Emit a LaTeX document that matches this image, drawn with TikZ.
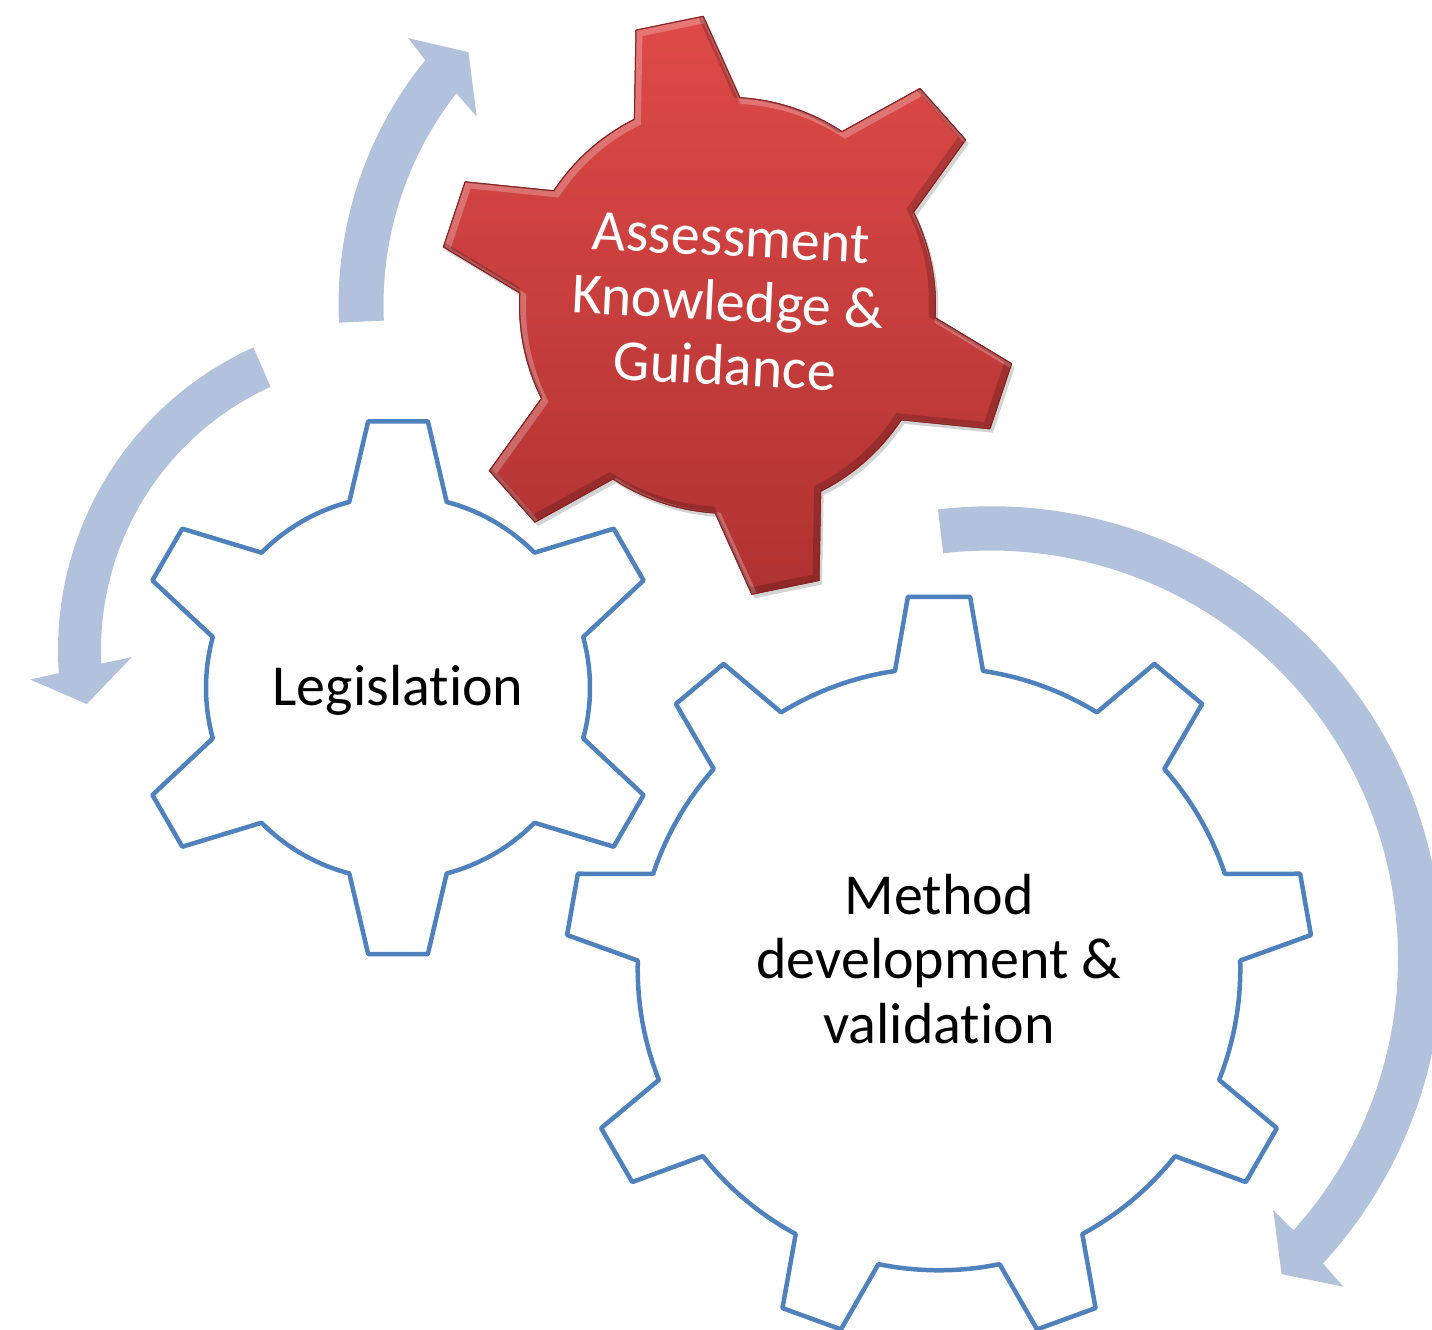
\documentclass[tikz,border=0pt]{standalone}
\usepackage{fontspec}
\setmainfont[Ligatures=NoCommon]{Carlito}
\usetikzlibrary{shadows}
\definecolor{gearblue}{RGB}{79,129,189}
\definecolor{arrowblue}{RGB}{178,194,220}
\definecolor{redtop}{RGB}{222,74,72}
\definecolor{redbot}{RGB}{176,50,50}
\definecolor{redline}{RGB}{140,36,36}
% #1 teeth, #2 first tooth angle, #3 inner radius, #4 outer radius, #5 tip half-angle, #6 base half-angle
\newcommand\gearpath[6]{(#2-#6:#3)
  \foreach \k [evaluate=\k as \ga using #2+360/#1*(\k-1),
               evaluate=\k as \sa using #2+#6+360/#1*(\k-1),
               evaluate=\k as \ea using #2-#6+360/#1*\k] in {1,...,#1}
  { -- (\ga-#5:#4) -- (\ga+#5:#4) -- (\sa:#3) arc[start angle=\sa, end angle=\ea, radius=#3] } -- cycle}
\begin{document}
\begin{tikzpicture}[x=1pt,y=-1pt,
  bluegear/.style={draw=gearblue, line width=4.5pt, line join=round, fill=white},
  flowarrow/.style={fill=arrowblue, draw=none},
  gearlabel/.style={font=\fontsize{58}{64.5}\selectfont, align=center, text=black, inner sep=0pt},
  redgear/.style={top color=redtop, bottom color=redbot, draw=redline, line width=1pt, line join=round,
     drop shadow={shadow xshift=3pt, shadow yshift=-4pt, opacity=0.35}}
]
\useasboundingbox (0,0) rectangle (1432,1330);
\clip (0,0) rectangle (1432,1330);

% arrows
\begin{scope}[shift={(727.5,305)}]
\fill[flowarrow] (177.4:389) arc[start angle=177.4, end angle=219, radius=389]
  -- (219.9:416) -- (224.3:362) -- (216.9:313.6) -- (218:344)
  arc[start angle=218, end angle=177.4, radius=344] -- cycle;
\end{scope}
\begin{scope}[shift={(390,650)}]
\fill[flowarrow] (245.7:332) arc[start angle=245.7, end angle=176, radius=332]
  -- (175.3:361) -- (169.9:308) -- (178.4:258.4) -- (177.3:289)
  arc[start angle=177.3, end angle=245.6, radius=289] -- cycle;
\end{scope}
\begin{scope}[shift={(990.7,957.8)}]
\fill[flowarrow] (-96.7:451.5) arc[start angle=-96.7, end angle=42.6, radius=451.5]
  -- (43:482.2) -- (47.4:429.7) -- (41.75:378.8) -- (42:407.3)
  arc[start angle=42, end angle=-96.7, radius=407.3] -- cycle;
\end{scope}

% Legislation gear
\begin{scope}[shift={(398,687.7)}]
\draw[bluegear] \gearpath{6}{30}{192}{268}{6.4}{14.7};
\end{scope}
% Method gear
\begin{scope}[shift={(939,969)}]
\draw[bluegear] \gearpath{9}{30}{301.3}{373.5}{4.78}{8.4};
\end{scope}
% Assessment gear
\begin{scope}[shift={(727.5,305.3)}]
\path[redgear] \gearpath{6}{18.4}{208}{290}{6.8}{15};
\begin{scope}
\clip \gearpath{6}{18.4}{208}{290}{6.8}{15};
\draw[white, opacity=0.25, line width=7pt, shift={(3,3)}] \gearpath{6}{18.4}{208}{290}{6.8}{15};
\draw[black, opacity=0.18, line width=7pt, shift={(-3,-3)}] \gearpath{6}{18.4}{208}{290}{6.8}{15};
\end{scope}
\draw[redline, line width=1pt, line join=round] \gearpath{6}{18.4}{208}{290}{6.8}{15};
\end{scope}

% labels
\node[gearlabel, anchor=base] (leg) at (398,705.2) {Legislation};
\node[gearlabel, anchor=center] (meth) at (939,959) {Method\\development \&\\validation};
\node[gearlabel, text=white, rotate=-2.85, anchor=center] (assess) at (728.1,302.2) {Assessment\\Knowledge \&\\Guidance};
\end{tikzpicture}
\end{document}
